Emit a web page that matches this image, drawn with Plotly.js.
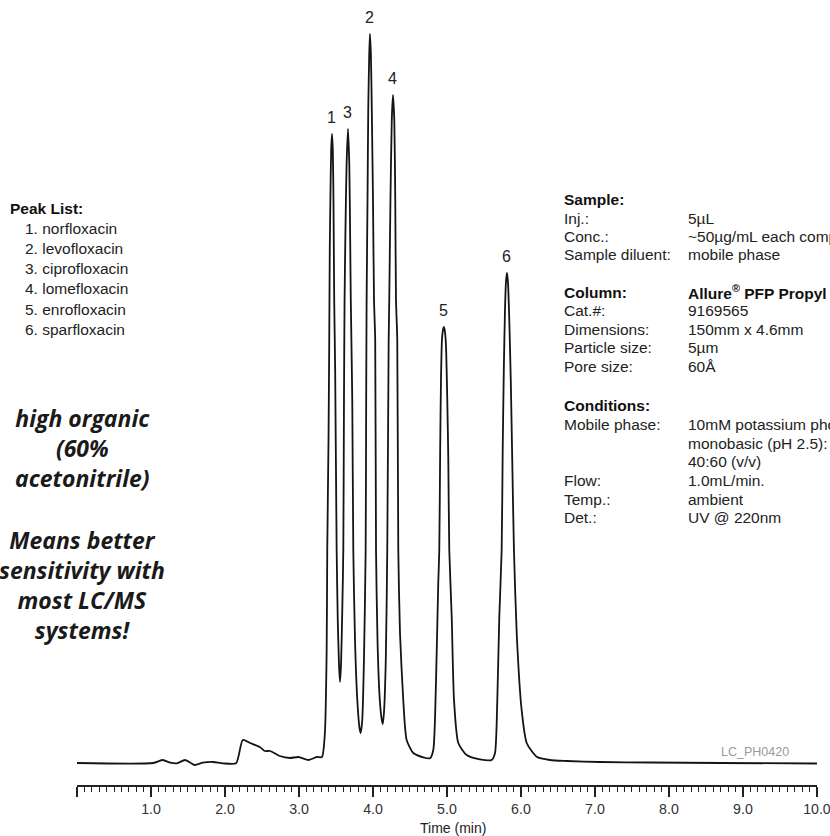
<!DOCTYPE html>
<html>
<head>
<meta charset="utf-8">
<script src="https://cdn.plot.ly/plotly-3.0.1.min.js"></script>
<style>
  html, body { margin: 0; padding: 0; background: #fff; }
  #chart { width: 830px; height: 836px; }
</style>
</head>
<body>
<div id="chart"></div>
<script>
// ---- chromatogram trace (time in min, detector signal in arbitrary units) ----
const timeMin = [
  0.00, 1.03, 1.16, 1.26, 1.35, 1.46, 1.59, 1.70, 1.84, 1.97, 2.15, 2.24, 2.34, 2.47, 2.54, 2.61,
  2.74, 2.88, 2.99, 3.13, 3.24, 3.31, 3.35, 3.374, 3.382,
  3.399, 3.409, 3.416, 3.426, 3.435, 3.446, 3.457, 3.466, 3.476, 3.489, 3.509, 3.524, 3.541, 3.554,
  3.568, 3.585, 3.599,
  3.608, 3.616, 3.628, 3.643, 3.662, 3.680, 3.692, 3.700, 3.720, 3.734, 3.757, 3.788, 3.818, 3.834,
  3.855, 3.878, 3.901,
  3.908, 3.914, 3.926, 3.936, 3.949, 3.959, 3.972, 3.984, 4.000, 4.014, 4.030, 4.041, 4.061, 4.088,
  4.115, 4.132, 4.149, 4.173, 4.193,
  4.212, 4.220, 4.236, 4.254, 4.270, 4.288, 4.301, 4.311, 4.328, 4.342, 4.365, 4.409, 4.455, 4.545,
  4.680, 4.770, 4.815, 4.851, 4.882, 4.896,
  4.908, 4.919, 4.932, 4.946, 4.959, 4.973, 4.986, 5.004, 5.018, 5.031, 5.064, 5.095, 5.153, 5.266,
  5.446, 5.604, 5.649, 5.680, 5.707, 5.739,
  5.753, 5.768, 5.784, 5.797, 5.811, 5.824, 5.842, 5.862, 5.882, 5.905, 5.942, 6.009, 6.077, 6.212,
  6.392, 6.618, 7.068, 7.743, 8.689, 10.00
];
const signal = [
  0, 0, 3, 0.3, -0.3, 3, -2, 0.3, 1, -0.3, -0.3, 23, 20, 16, 12, 12,
  7, 5, 6, 3, 6, 6, 30, 113, 213,
  323, 423, 513, 573, 613, 629, 613, 563, 463, 393, 213, 143, 98, 81,
  98, 153, 213,
  363, 463, 533, 598, 634, 598, 523, 463, 363, 213, 123, 63, 35, 30,
  43, 103, 213,
  363, 463, 563, 653, 708, 729, 708, 653, 563, 463, 423, 213, 123, 68,
  45, 39, 51, 103, 213,
  423, 463, 563, 643, 668, 643, 563, 463, 423, 213, 130, 63, 23, 10,
  5.7, 4.7, 13, 80, 180, 213,
  313, 383, 423, 433, 436, 431, 418, 363, 303, 213, 146, 63, 20, 8,
  3.7, 3, 10, 63, 146, 213,
  313, 393, 453, 481, 490, 481, 443, 383, 303, 213, 130, 53, 20, 6.3,
  3, 2, 1, 0.5, 0, -0.5
];

// ---- peak labels ----
const peakLabels = ["1", "3", "2", "4", "5", "6"];
const peakTimes  = [3.446, 3.662, 3.959, 4.270, 4.959, 5.811];
const peakHeights = [629, 634, 729, 668, 436, 490];

// ---- axis ticks ----
const tickValues = [0, 1, 2, 3, 4, 5, 6, 7, 8, 9, 10];
const tickLabels = ["", "1.0", "2.0", "3.0", "4.0", "5.0", "6.0", "7.0", "8.0", "9.0", "10.0"];

// ---- text blocks ----
const peakListTitle = "Peak List:";
const peakNames = ["1. norfloxacin", "2. levofloxacin", "3. ciprofloxacin",
                   "4. lomefloxacin", "5. enrofloxacin", "6. sparfloxacin"];
const noteLines1 = ["high organic", "(60%", "acetonitrile)"];
const noteLines2 = ["Means better", "sensitivity with", "most LC/MS", "systems!"];
const infoLabels = ["<b>Sample:</b>", "Inj.:", "Conc.:", "Sample diluent:",
                    "<b>Column:</b>", "Cat.#:", "Dimensions:", "Particle size:", "Pore size:",
                    "<b>Conditions:</b>", "Mobile phase:", "", "", "Flow:", "Temp.:", "Det.:"];
const infoValues = ["", "5µL", "~50µg/mL each compound", "mobile phase",
                    "<b>Allure<sup>®</sup> PFP Propyl</b>", "9169565", "150mm x 4.6mm", "5µm", "60Å",
                    "", "10mM potassium phosphate", "monobasic (pH 2.5):", "40:60 (v/v)",
                    "1.0mL/min.", "ambient", "UV @ 220nm"];
const infoRowY = [199, 218, 236, 254, 292, 310, 329, 347, 366, 405, 424, 443, 461, 480, 499, 517];
const codeLabel = "LC_PH0420";
const xTitle = "Time (min)";

// ---- layout helpers (pixel -> paper) ----
const W = 830, H = 836, ML = 77, MR = 13, MT = 0, MB = 51;
const PW = W - ML - MR, PH = H - MT - MB;
const px = x => (x - ML) / PW;
const py = y => (H - MB - y) / PH;

const sans = "'Liberation Sans', Arial, sans-serif";
const txtColor = "#222";
const infoSize = 15.5;

const annotations = [];

// peak number labels
peakLabels.forEach((lab, i) => {
  annotations.push({
    x: peakTimes[i], y: peakHeights[i], xref: "x", yref: "y",
    text: lab, showarrow: false, xanchor: "center", yanchor: "bottom", yshift: 6,
    font: { family: sans, size: 16, color: txtColor }
  });
});

// peak list
annotations.push({
  x: px(8), y: py(208), xref: "paper", yref: "paper", text: "<b>" + peakListTitle + "</b>",
  showarrow: false, xanchor: "left", yanchor: "middle",
  font: { family: sans, size: infoSize, color: "#111" }
});
peakNames.forEach((n, i) => {
  annotations.push({
    x: px(23), y: py(228 + i * 20.3), xref: "paper", yref: "paper", text: n,
    showarrow: false, xanchor: "left", yanchor: "middle",
    font: { family: sans, size: infoSize, color: txtColor }
  });
});

// italic notes
annotations.push({
  x: px(82), y: py(448), xref: "paper", yref: "paper", text: noteLines1.join("<br>"),
  showarrow: false, xanchor: "center", yanchor: "middle", align: "center",
  font: { family: "'Open Sans', sans-serif", size: 23, color: "#1a1a1a", weight: 700, style: "italic" }
});
annotations.push({
  x: px(82), y: py(585), xref: "paper", yref: "paper", text: noteLines2.join("<br>"),
  showarrow: false, xanchor: "center", yanchor: "middle", align: "center",
  font: { family: "'Open Sans', sans-serif", size: 23, color: "#1a1a1a", weight: 700, style: "italic" }
});

// info block
infoLabels.forEach((lab, i) => {
  if (lab) annotations.push({
    x: px(562), y: py(infoRowY[i]), xref: "paper", yref: "paper", text: lab,
    showarrow: false, xanchor: "left", yanchor: "middle",
    font: { family: sans, size: infoSize, color: lab.startsWith("<b>") ? "#111" : txtColor }
  });
  if (infoValues[i]) annotations.push({
    x: px(686), y: py(infoRowY[i]), xref: "paper", yref: "paper", text: infoValues[i],
    showarrow: false, xanchor: "left", yanchor: "middle",
    font: { family: sans, size: infoSize, color: infoValues[i].startsWith("<b>") ? "#111" : txtColor }
  });
});

// code label
annotations.push({
  x: px(719), y: py(752), xref: "paper", yref: "paper", text: codeLabel,
  showarrow: false, xanchor: "left", yanchor: "middle",
  font: { family: sans, size: 12.5, color: "#9a9a9a" }
});

// x axis title
annotations.push({
  x: px(453), y: py(828), xref: "paper", yref: "paper", text: xTitle,
  showarrow: false, xanchor: "center", yanchor: "middle",
  font: { family: sans, size: 14, color: txtColor }
});

const trace = {
  x: timeMin, y: signal, type: "scatter", mode: "lines",
  line: { color: "#141414", width: 1.8, shape: "spline", smoothing: 0.6 },
  hoverinfo: "skip"
};

const layout = {
  width: W, height: H,
  margin: { l: ML, r: MR, t: MT, b: MB, pad: 0 },
  paper_bgcolor: "#fff", plot_bgcolor: "#fff",
  showlegend: false,
  xaxis: {
    range: [0, 10.0005], showgrid: false, zeroline: false,
    showline: true, linecolor: "#222", linewidth: 1.5,
    ticks: "outside", ticklen: 10, tickwidth: 1.5, tickcolor: "#222",
    tickmode: "array", tickvals: tickValues, ticktext: tickLabels,
    ticklabeloverflow: "allow",
    tickfont: { family: sans, size: 14.2, color: "#333" },
    minor: { ticks: "outside", ticklen: 5, tickwidth: 1, tickcolor: "#222",
             tickmode: "linear", tick0: 0, dtick: 0.1, showgrid: false },
    fixedrange: true
  },
  yaxis: {
    range: [-22, 763], visible: false, showgrid: false, zeroline: false, fixedrange: true
  },
  annotations: annotations
};

Plotly.newPlot("chart", [trace], layout, { staticPlot: true, displayModeBar: false });
</script>
</body>
</html>
